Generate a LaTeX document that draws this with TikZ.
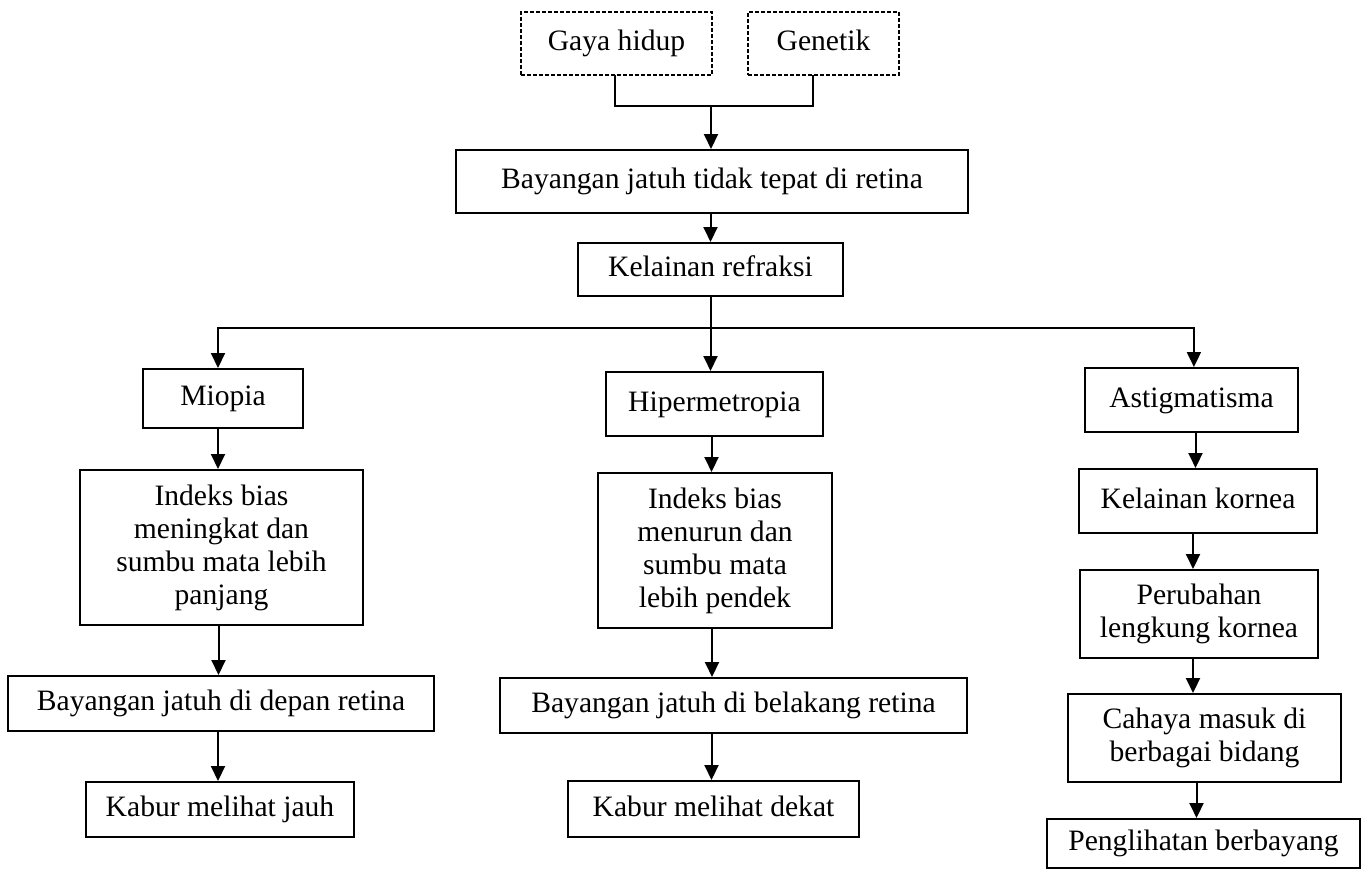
\documentclass[tikz,border=0pt]{standalone}
\usepackage{fontspec}
\setmainfont{Liberation Serif}
\usetikzlibrary{arrows.meta}
\begin{document}
\begin{tikzpicture}[x=0.5pt,y=-0.5pt,
  box/.style={draw,line width=1pt,inner sep=0pt,align=center,
    font=\fontsize{14.8pt}{16.5pt}\selectfont},
  sbox/.style={box,text height=10.5pt,text depth=3.5pt},
  dbox/.style={sbox,line width=0.75pt,dash pattern=on 2pt off 1pt},
  link/.style={line width=1pt},
  arr/.style={line width=1pt,-{Triangle[length=7.5pt,width=7pt]}}]
\useasboundingbox (0,0) rectangle (1368,872);
\node[dbox,minimum width=95.5pt,minimum height=31.5pt] (gaya) at (616.5,43.5) {Gaya hidup};
\node[dbox,minimum width=75.5pt,minimum height=31.5pt] (gen) at (823.5,43.5) {Genetik};
\node[sbox,minimum width=256pt,minimum height=31.5pt] (bay) at (712,181.5) {Bayangan jatuh tidak tepat di retina};
\node[sbox,minimum width=132.5pt,minimum height=26.5pt] (kel) at (710.5,269.5) {Kelainan refraksi};
\node[sbox,minimum width=80pt,minimum height=29.5pt] (mio) at (223,398.5) {Miopia};
\node[sbox,minimum width=108.5pt,minimum height=32pt] (hip) at (714.5,404) {Hipermetropia};
\node[sbox,minimum width=106.5pt,minimum height=32pt] (ast) at (1191.5,400) {Astigmatisma};
\node[box,minimum width=141.5pt,minimum height=77.5pt] (mind) at (221.5,547.5) {Indeks bias\\meningkat dan\\sumbu mata lebih\\panjang};
\node[sbox,minimum width=213pt,minimum height=27.5pt] (mbay) at (221,703.5) {Bayangan jatuh di depan retina};
\node[sbox,minimum width=134pt,minimum height=27.5pt] (mkab) at (220,809.5) {Kabur melihat jauh};
\node[box,minimum width=117pt,minimum height=77.5pt] (hind) at (715,550.5) {Indeks bias\\menurun dan\\sumbu mata\\lebih pendek};
\node[sbox,minimum width=233.5pt,minimum height=27.5pt] (hbay) at (733.5,705.5) {Bayangan jatuh di belakang retina};
\node[sbox,minimum width=145.5pt,minimum height=28pt] (hkab) at (713.5,809) {Kabur melihat dekat};
\node[sbox,minimum width=119pt,minimum height=32pt] (akor) at (1198,501) {Kelainan kornea};
\node[box,minimum width=119pt,minimum height=44pt] (aper) at (1199,614) {Perubahan\\lengkung kornea};
\node[box,minimum width=136.5pt,minimum height=44pt] (acah) at (1204.5,738) {Cahaya masuk di\\berbagai bidang};
\node[sbox,minimum width=156.5pt,minimum height=24.5pt] (apen) at (1203.5,843.5) {Penglihatan berbayang};
% top merge
\coordinate (mg) at (711,106);
\coordinate (gs) at (615,75);
\coordinate (ns) at (813,75);
\draw[link] (gs) |- (mg);
\draw[link] (ns) |- (mg);
\draw[arr] (mg) -- (mg |- bay.north);
\draw[arr] (kel.south |- bay.south) -- (kel.north);
% branch
\coordinate (br) at (kel.south |- 0,328);
\draw[link] (kel.south) -- (br);
\draw[arr] (br) -| ([xshift=-2.5pt]mio.north);
\draw[arr] (br) -| ([xshift=1.2pt]ast.north);
\draw[arr] (br) -- (br |- hip.north);
% miopia column
\draw[arr] ([xshift=-2.5pt]mio.south) -- ([xshift=-2.5pt]mio.south |- mind.north);
\draw[arr] ([xshift=-1.5pt]mind.south) -- ([xshift=-1.5pt]mind.south |- mbay.north);
\draw[arr] ([xshift=-1.5pt]mbay.south) -- ([xshift=-1.5pt]mbay.south |- mkab.north);
% hiper column
\draw[arr] ([xshift=-1.5pt]hip.south) -- ([xshift=-1.5pt]hip.south |- hind.north);
\draw[arr] ([xshift=-1.5pt]hind.south) -- ([xshift=-1.5pt]hind.south |- hbay.north);
\draw[arr] ([xshift=-11pt]hbay.south) -- ([xshift=-11pt]hbay.south |- hkab.north);
% astig column
\draw[arr] ([xshift=2pt]ast.south) -- ([xshift=2pt]ast.south |- akor.north);
\draw[arr] ([xshift=-2.5pt]akor.south) -- ([xshift=-2.5pt]akor.south |- aper.north);
\draw[arr] ([xshift=-3pt]aper.south) -- ([xshift=-3pt]aper.south |- acah.north);
\draw[arr] ([xshift=-4pt]acah.south) -- ([xshift=-4pt]acah.south |- apen.north);
\end{tikzpicture}
\end{document}
